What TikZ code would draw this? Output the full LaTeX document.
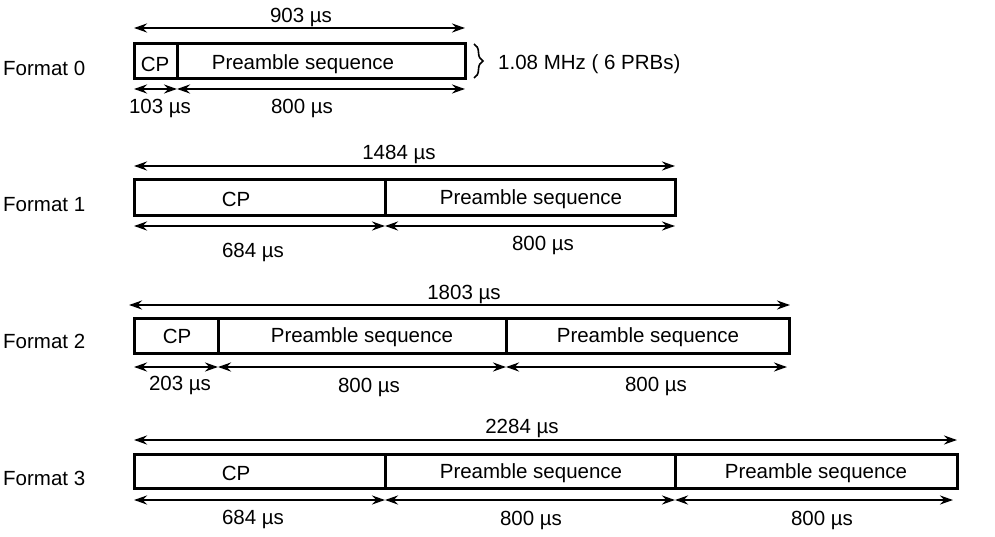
\documentclass[tikz,border=0pt]{standalone}
\usepackage{fontspec}
\setmainfont{Liberation Sans}
\usetikzlibrary{arrows.meta,decorations.pathreplacing}

\begin{document}
\begin{tikzpicture}
[x=1pt,y=-1pt,
 lbl/.style={font=\fontsize{20.5}{22}\selectfont,inner sep=0pt,yshift=-2pt},
 seg/.style={line width=3pt},
 dim/.style={line width=2.4pt,{Stealth[length=13pt,width=9pt]}-{Stealth[length=13pt,width=9pt]}}]
\useasboundingbox (0,0) rectangle (995,537);
% format labels
\node[lbl,anchor=west] (f0) at (3,66) {Format 0};
\node[lbl,anchor=west] (f1) at (3,203) {Format 1};
\node[lbl,anchor=west] (f2) at (3,339) {Format 2};
\node[lbl,anchor=west] (f3) at (3,476) {Format 3};
% format 0
\draw[seg] (134,44) rectangle (465,79);
\draw[seg] (177,44) -- (177,79);
\node[lbl] (cp0) at (155,62) {CP};
\node[lbl] (ps0) at (303,62) {Preamble sequence};
\coordinate (t0a) at (134,28);
\coordinate (t0b) at (465,28);
\coordinate (b0a) at (134,89);
\coordinate (b0b) at (177,89);
\coordinate (b0c) at (465,89);
\draw[dim] (t0a) -- (t0b);
\draw[dim] (b0a) -- (b0b);
\draw[dim] (b0b) -- (b0c);
\node[lbl] (l0) at (301,15) {903 µs};
\node[lbl] (l0a) at (160,106) {103 µs};
\node[lbl] (l0b) at (302,106) {800 µs};
\coordinate (br0a) at (474,44);
\coordinate (br0b) at (474,78);
\draw[line width=1.6pt,decorate,decoration={brace,amplitude=9pt}] (br0a) -- (br0b);
\node[lbl,anchor=west] (bw) at (498,62) {1.08 MHz ( 6 PRBs)};
% format 1
\draw[seg] (134,180) rectangle (675,216);
\draw[seg] (385,180) -- (385,216);
\node[lbl] (cp1) at (236,197) {CP};
\node[lbl] (ps1) at (531,197) {Preamble sequence};
\coordinate (t1a) at (134,166);
\coordinate (t1b) at (675,166);
\coordinate (b1a) at (134,226);
\coordinate (b1b) at (385,226);
\coordinate (b1c) at (675,226);
\draw[dim] (t1a) -- (t1b);
\draw[dim] (b1a) -- (b1b);
\draw[dim] (b1b) -- (b1c);
\node[lbl] (l1) at (399,152) {1484 µs};
\node[lbl] (l1a) at (253,250) {684 µs};
\node[lbl] (l1b) at (543,243) {800 µs};
% format 2
\draw[seg] (134,318) rectangle (789,353);
\draw[seg] (218,318) -- (218,353);
\draw[seg] (506,318) -- (506,353);
\node[lbl] (cp2) at (177,334) {CP};
\node[lbl] (ps2) at (362,335) {Preamble sequence};
\node[lbl] (ps2b) at (648,335) {Preamble sequence};
\coordinate (t2a) at (129,305);
\coordinate (t2b) at (790,305);
\coordinate (b2a) at (134,367);
\coordinate (b2b) at (218,367);
\coordinate (b2c) at (506,367);
\coordinate (b2d) at (787,367);
\draw[dim] (t2a) -- (t2b);
\draw[dim] (b2a) -- (b2b);
\draw[dim] (b2b) -- (b2c);
\draw[dim] (b2c) -- (b2d);
\node[lbl] (l2) at (464,292) {1803 µs};
\node[lbl] (l2a) at (180,383) {203 µs};
\node[lbl] (l2b) at (369,385) {800 µs};
\node[lbl] (l2c) at (656,384) {800 µs};
% format 3
\draw[seg] (134,454) rectangle (957,488);
\draw[seg] (385,454) -- (385,488);
\draw[seg] (675,454) -- (675,488);
\node[lbl] (cp3) at (236,471) {CP};
\node[lbl] (ps3) at (531,471) {Preamble sequence};
\node[lbl] (ps3b) at (816,471) {Preamble sequence};
\coordinate (t3a) at (134,440);
\coordinate (t3b) at (957,440);
\coordinate (b3a) at (134,500);
\coordinate (b3b) at (385,500);
\coordinate (b3c) at (675,500);
\coordinate (b3d) at (953,500);
\draw[dim] (t3a) -- (t3b);
\draw[dim] (b3a) -- (b3b);
\draw[dim] (b3b) -- (b3c);
\draw[dim] (b3c) -- (b3d);
\node[lbl] (l3) at (522,426) {2284 µs};
\node[lbl] (l3a) at (253,517) {684 µs};
\node[lbl] (l3b) at (531,518) {800 µs};
\node[lbl] (l3c) at (822,518) {800 µs};
\end{tikzpicture}
\end{document}
